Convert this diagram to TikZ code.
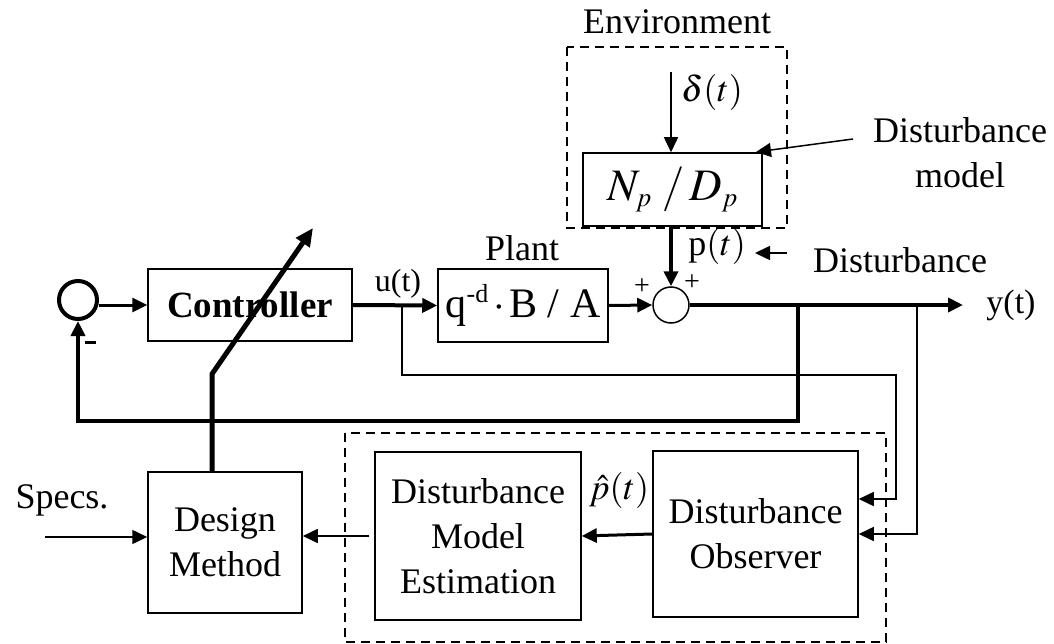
\documentclass[tikz,border=0pt]{standalone}
\usepackage{mathptmx}
\usepackage{fontspec}
\setmainfont{Liberation Serif}
\usetikzlibrary{arrows.meta,positioning,calc}
\tikzset{
  >={Triangle[length=15pt,width=14pt]},
  blk/.style={draw, line width=1.5pt, align=center, inner sep=0pt,
              font=\fontsize{36}{45}\selectfont},
  sumnode/.style={draw, circle, inner sep=0pt},
  frame/.style={draw, dashed, line width=1.5pt, dash pattern=on 9pt off 6pt},
  lbl/.style={font=\fontsize{36}{45}\selectfont, inner sep=0pt},
  sig/.style={font=\fontsize{32}{38}\selectfont, inner sep=0pt},
  sgn/.style={font=\fontsize{28}{28}\selectfont, inner sep=0pt},
  thin/.style={->, line width=1.5pt},
  fat/.style={->, line width=4pt},
  med/.style={->, line width=3pt},
}

\begin{document}
\begin{tikzpicture}[x=1pt,y=-1pt]
    \useasboundingbox (0,0) rectangle (1054,644);
    % frames
    \draw[frame] (567,47) rectangle (787,228);
    \draw[frame] (345,433) rectangle (886,642);
    \node[lbl] (envlbl) at (677,22) {Environment};
    % blocks
    \node[sumnode,line width=4pt,minimum size=38pt] (sumL) at (78,300) {};
    \node[blk,minimum width=204pt,minimum height=72pt,font=\fontsize{37}{45}\selectfont\bfseries] (ctrl) at (250,305) {Controller};
    \node[blk,minimum width=170pt,minimum height=73pt,font=\fontsize{42}{45}\selectfont] (plant) at (523,305.5) {q\raisebox{15pt}{\fontsize{26}{26}\selectfont -d}$\,\cdot\,$B / A};
    \node[lbl] (plantlbl) at (522,248) {Plant};
    \node[sumnode,line width=1.5pt,minimum size=36pt] (sumR) at (671,305) {};
    \node[blk,minimum width=179pt,minimum height=73pt,font=\fontsize{45}{45}\selectfont] (npdp) at (672.5,189.5) {$N_{\scriptscriptstyle p}\;/\,D_{\scriptscriptstyle p}$};
    \node[blk,minimum width=205pt,minimum height=166pt] (obs) at (755.5,534) {Disturbance\\Observer};
    \node[blk,minimum width=206pt,minimum height=168pt] (est) at (478,536) {Disturbance\\Model\\Estimation};
    \node[blk,minimum width=154pt,minimum height=141pt] (design) at (225,542.5) {Design\\Method};
    % labels
    \node[sig] (ulbl) at (398,284) {u(t)};
    \node[sig,font=\fontsize{34}{38}\selectfont] (ylbl) at (1011,305) {y(t)};
    \node[lbl] (plbl) at (717,246) {p$(t)$};
    \node[lbl] (dlbl) at (712,93) {$\delta(t)$};
    \node[lbl] (phlbl) at (619,490) {$\hat{p}(t)$};
    \node[lbl] (speclbl) at (62,500) {Specs.};
    \node[lbl] (distlbl) at (900,260) {Disturbance};
    \node[lbl,align=center] (dmlbl) at (960,153) {Disturbance\\model};
    \node[inner sep=0pt] (minus) at (90,342) {\rule{11pt}{3pt}};
    \node[sgn] (plusL) at (642,287) {+};
    \node[sgn] (plusT) at (692,283) {+};
    % points
    \coordinate (ub) at (402,305);
    \coordinate (uc) at (896,375);
    \coordinate (yb) at (798,305);
    \coordinate (fb) at (798,421);
    \coordinate (yb2) at (917,305);
    \coordinate (yout) at (963,305);
    \coordinate (din) at (671,72);
    \coordinate (spec) at (45,537);
    \coordinate (dmfrom) at (853,139);
    \coordinate (dmto) at (756,152);
    \coordinate (dist) at (787,253);
    \coordinate (pt) at (755,253);
    \coordinate (dsgn) at (212,472);
    \coordinate (knee) at (212,374);
    \coordinate (tip) at (313,228);
    % connectors
    \draw[med] (sumL.east |- ctrl.west) -- (ctrl.west);
    \draw[fat] (ctrl.east) -- (plant.west);
    \draw[med] (plant.east) -- (sumR.west);
    \draw[fat] (npdp.south -| sumR.north) -- (sumR.north);
    \draw[thin] (din) -- (din |- npdp.north);
    \draw[fat] (sumR.east) -- (yout);
    \draw[fat] (yb) -- (fb) -| (sumL.south);
    \draw[thin] (ub) |- (uc) |- ([yshift=35pt]obs.east);
    \draw[thin] (yb2) |- (obs.east);
    \draw[med] (obs.west) -- (est.east);
    \draw[thin,shorten <=5pt] (est.west) -- (design.east |- est.west);
    \draw[thin] (spec) -- (spec -| design.west);
    \draw[thin] (dmfrom) -- (dmto);
    \draw[thin] (dist) -- (pt);
    \draw[->,line width=5pt,>={Triangle[length=18pt,width=16pt]}] (dsgn) -- (knee) -- (tip);
\end{tikzpicture}
\end{document}
